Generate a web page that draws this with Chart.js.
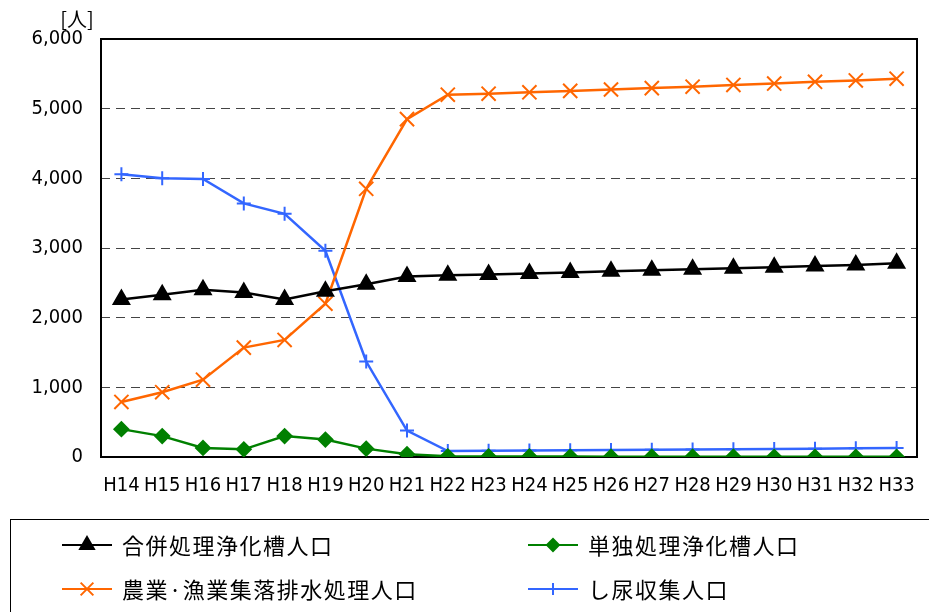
<!DOCTYPE html>
<html>
<head>
<meta charset="utf-8">
<script src="https://cdn.jsdelivr.net/npm/chart.js@4.4.0/dist/chart.umd.min.js"></script>
<style>
  html, body { margin: 0; padding: 0; background: #fff; }
  #wrap { width: 929px; height: 612px; position: relative; }
</style>
</head>
<body>
<div id="wrap"><canvas id="chart"></canvas></div>
<script>
// chart values
var years = ['H14', 'H15', 'H16', 'H17', 'H18', 'H19', 'H20', 'H21', 'H22', 'H23',
             'H24', 'H25', 'H26', 'H27', 'H28', 'H29', 'H30', 'H31', 'H32', 'H33'];
var gappei  = [2260, 2330, 2400, 2360, 2260, 2380, 2480, 2590, 2610, 2620,
               2635, 2650, 2665, 2680, 2695, 2710, 2725, 2740, 2755, 2780];
var tandoku = [400, 300, 130, 110, 300, 250, 120, 40, 10, 8,
               7, 6, 5, 5, 4, 4, 3, 3, 2, 2];
var nogyo   = [790, 930, 1110, 1570, 1680, 2200, 3850, 4850, 5200, 5215,
               5235, 5255, 5275, 5295, 5315, 5340, 5360, 5385, 5405, 5430];
var shinyo  = [4060, 4000, 3990, 3640, 3490, 2960, 1370, 380, 85, 88,
               92, 96, 100, 104, 108, 112, 116, 120, 125, 130];
var seriesNames = ['合併処理浄化槽人口', '単独処理浄化槽人口', '農業·漁業集落排水処理人口', 'し尿収集人口'];
var yMax = 6000;
var yStep = 1000;
var unitLabel = '[人]';

var tickFont = { family: '"DejaVu Sans Condensed", "Liberation Sans Narrow", sans-serif', size: 20 };
var jpFont = '"Noto Sans CJK JP", sans-serif';

// frame, unit label and the boxed 2x2 legend
var frameAndLegend = {
  id: 'frameAndLegend',
  beforeDatasetsDraw: function(chart) {
    var ctx = chart.ctx, a = chart.chartArea;
    ctx.save();
    ctx.strokeStyle = '#000';
    ctx.lineWidth = 2;
    ctx.strokeRect(a.left, a.top, a.right - a.left, a.bottom - a.top);
    ctx.restore();
  },
  afterDraw: function(chart) {
    var ctx = chart.ctx, a = chart.chartArea;
    ctx.save();
    ctx.fillStyle = '#000';
    ctx.font = '20px ' + jpFont;
    ctx.textAlign = 'center';
    ctx.textBaseline = 'middle';
    ctx.fillText(unitLabel, a.left - 24, 19);

    ctx.strokeStyle = '#000';
    ctx.lineWidth = 1;
    ctx.strokeRect(10.5, 519.5, 940, 120);

    var cols = [62, 528], rows = [545, 589];
    chart.data.datasets.forEach(function(ds, i) {
      var x = cols[i % 2], y = rows[Math.floor(i / 2)];
      ctx.strokeStyle = ds.borderColor;
      ctx.lineWidth = 2;
      ctx.beginPath();
      ctx.moveTo(x, y);
      ctx.lineTo(x + 50, y);
      ctx.stroke();
      ctx.fillStyle = ds.pointBackgroundColor;
      ctx.strokeStyle = ds.pointBorderColor;
      Chart.helpers.drawPoint(ctx, {
        pointStyle: ds.pointStyle,
        radius: ds.pointRadius - 1,
        borderWidth: ds.pointBorderWidth
      }, x + 25, y);
      ctx.fillStyle = '#000';
      ctx.font = '22px ' + jpFont;
      ctx.letterSpacing = '1.5px';
      ctx.textAlign = 'left';
      ctx.fillText(ds.label, x + 60, y + 1);
      ctx.letterSpacing = '0px';
    });
    ctx.restore();
  }
};

function makeSet(label, data, color, style, radius, fill) {
  return {
    label: label,
    data: data,
    borderColor: color,
    borderWidth: 2.5,
    pointStyle: style,
    pointRadius: radius,
    pointBorderWidth: 2,
    pointBackgroundColor: fill,
    pointBorderColor: color,
    tension: 0
  };
}

new Chart(document.getElementById('chart'), {
  type: 'line',
  data: {
    labels: years,
    datasets: [
      makeSet(seriesNames[0], gappei, '#000000', 'triangle', 9, '#000000'),
      makeSet(seriesNames[1], tandoku, '#008000', 'rectRot', 7, '#008000'),
      makeSet(seriesNames[2], nogyo, '#FF6600', 'crossRot', 10, '#FF6600'),
      makeSet(seriesNames[3], shinyo, '#3366FF', 'cross', 7, '#3366FF')
    ]
  },
  options: {
    responsive: true,
    maintainAspectRatio: false,
    animation: false,
    layout: { padding: { top: 39, right: 3, bottom: 100, left: 0 } },
    plugins: {
      legend: { display: false },
      tooltip: { enabled: false }
    },
    scales: {
      x: {
        offset: true,
        grid: { display: false, drawTicks: false },
        border: { display: false },
        ticks: { color: '#000', font: tickFont, padding: 17, maxRotation: 0, autoSkip: false },
        afterFit: function(scale) {
          scale.height = 55;
          scale.paddingLeft = 0;
          scale.paddingRight = 0;
        }
      },
      y: {
        min: 0,
        max: yMax,
        grid: { color: '#444', lineWidth: 1, drawTicks: false },
        border: { display: false, dash: [9, 6] },
        ticks: {
          stepSize: yStep,
          color: '#000',
          font: tickFont,
          padding: 18,
          callback: function(v) { return v.toLocaleString('en-US'); }
        },
        afterFit: function(scale) { scale.width = 101; }
      }
    }
  },
  plugins: [frameAndLegend]
});
</script>
</body>
</html>
